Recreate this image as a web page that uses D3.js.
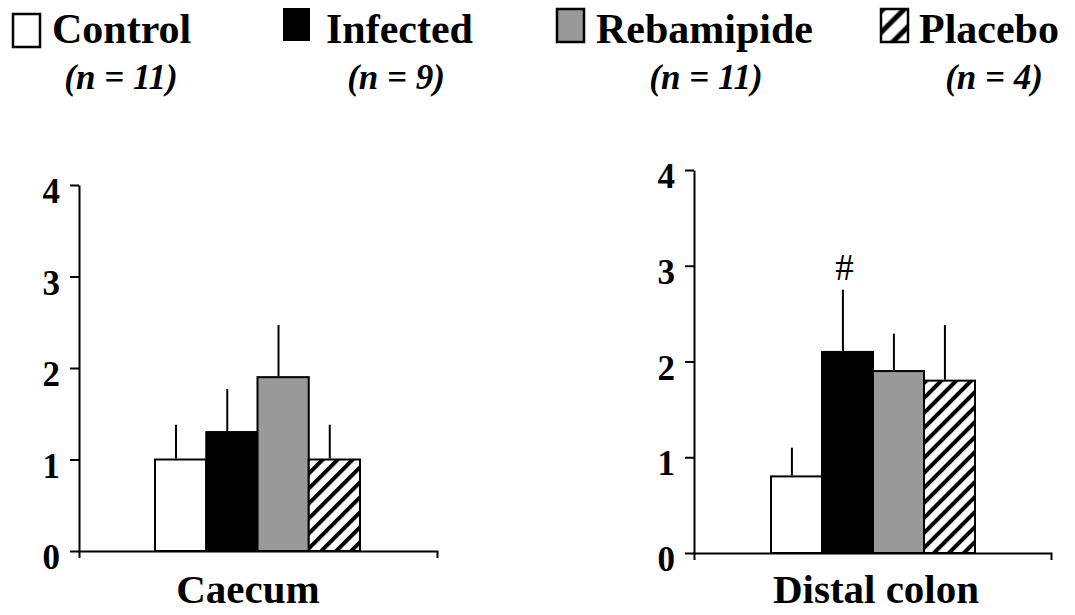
<!DOCTYPE html>
<html>
<head>
<meta charset="utf-8">
<script src="https://cdn.jsdelivr.net/npm/d3@7"></script>
<style>
  body { margin: 0; background: #fff; }
  svg { font-family: "Liberation Serif", "Times New Roman", serif; }
  .axis path, .axis line { stroke: #000; stroke-width: 2px; }
  .axis text { font-family: "Liberation Serif", "Times New Roman", serif; font-size: 35px; font-weight: bold; fill: #000; }
</style>
</head>
<body>
<div id="chart"></div>
<script>
// data
const groups = ['Control', 'Infected', 'Rebamipide', 'Placebo'];
const groupN = ['(n = 11)', '(n = 9)', '(n = 11)', '(n = 4)'];
const regions = ['Caecum', 'Distal colon'];
const caecumMean = [1.0, 1.3, 1.9, 1.0];
const caecumErr = [0.38, 0.47, 0.57, 0.38];
const colonMean = [0.8, 2.1, 1.9, 1.8];
const colonErr = [0.3, 0.65, 0.39, 0.58];
const yTicks = [0, 1, 2, 3, 4];
const marks = [null, '#', null, null]; // significance marks, distal colon

const width = 1075, height = 615;
const fills = ['#ffffff', '#000000', '#999999', 'url(#hatch)'];
const legendFills = ['#ffffff', '#000000', '#999999', 'url(#hatchBig)'];

const svg = d3.select('#chart')
    .append('svg')
    .attr('width', width)
    .attr('height', height);

const defs = svg.append('defs');
defs.append('pattern')
    .attr('id', 'hatch')
    .attr('patternUnits', 'userSpaceOnUse')
    .attr('width', 10.6)
    .attr('height', 10.6)
    .attr('patternTransform', 'rotate(45)')
    .call(p => {
        p.append('rect').attr('width', 10.6).attr('height', 10.6).attr('fill', '#fff');
        p.append('line').attr('x1', 2).attr('x2', 2).attr('y1', 0).attr('y2', 10.6)
            .attr('stroke', '#000').attr('stroke-width', 4);
    });
defs.append('pattern')
    .attr('id', 'hatchBig')
    .attr('patternUnits', 'userSpaceOnUse')
    .attr('width', 15)
    .attr('height', 15)
    .attr('patternTransform', 'translate(880,8) rotate(45)')
    .call(p => {
        p.append('rect').attr('width', 15).attr('height', 15).attr('fill', '#fff');
        p.append('line').attr('x1', 3).attr('x2', 3).attr('y1', 0).attr('y2', 15)
            .attr('stroke', '#000').attr('stroke-width', 5);
    });

// legend
const legendPos = [
    { bx: 12, by: 13, tx: 52, nx: 121 },
    { bx: 282, by: 7, tx: 326, nx: 396 },
    { bx: 556, by: 8, tx: 596, nx: 706 },
    { bx: 880, by: 8, tx: 919, nx: 994 }
];
const legend = svg.append('g').attr('class', 'legend');
groups.forEach((g, i) => {
    const p = legendPos[i];
    legend.append('rect')
        .attr('x', p.bx + 1)
        .attr('y', p.by + 1)
        .attr('width', 27)
        .attr('height', 33)
        .attr('fill', legendFills[i])
        .attr('stroke', '#000')
        .attr('stroke-width', i === 1 ? 0 : 2.5);
    legend.append('text')
        .attr('x', p.tx)
        .attr('y', 43)
        .attr('font-size', 42)
        .attr('font-weight', 'bold')
        .text(g);
    legend.append('text')
        .attr('x', p.nx)
        .attr('y', 89)
        .attr('text-anchor', 'middle')
        .attr('font-size', 35)
        .attr('font-weight', 'bold')
        .attr('font-style', 'italic')
        .text(groupN[i]);
});

// panels
const panels = [
    { name: regions[0], mean: caecumMean, err: caecumErr, marks: [],
      ax: 79, top: 185, bottom: 551, right: 437, bars: [155, 360], labelX: 248 },
    { name: regions[1], mean: colonMean, err: colonErr, marks: marks,
      ax: 694, top: 170, bottom: 553, right: 1051, bars: [771, 975], labelX: 876 }
];

panels.forEach(pn => {
    const g = svg.append('g');

    const y = d3.scaleLinear().domain([0, 4]).range([pn.bottom, pn.top]);
    const x = d3.scaleBand().domain(groups).range(pn.bars).padding(0);
    const xLine = d3.scaleLinear().range([pn.ax, pn.right]);

    // bars
    g.selectAll('.bar')
        .data(groups)
        .enter()
        .append('rect')
            .attr('class', 'bar')
            .attr('x', d => x(d))
            .attr('width', x.bandwidth())
            .attr('y', (d, i) => y(pn.mean[i]))
            .attr('height', (d, i) => y(0) - y(pn.mean[i]))
            .attr('fill', (d, i) => fills[i])
            .attr('stroke', '#000')
            .attr('stroke-width', 2);

    // error bars (upper only)
    g.selectAll('.err')
        .data(groups)
        .enter()
        .append('line')
            .attr('class', 'err')
            .attr('x1', d => x(d) + x.bandwidth() * 0.41)
            .attr('x2', d => x(d) + x.bandwidth() * 0.41)
            .attr('y1', (d, i) => y(pn.mean[i]) - 1)
            .attr('y2', (d, i) => y(pn.mean[i] + pn.err[i]))
            .attr('stroke', '#000')
            .attr('stroke-width', 2);

    // significance marks
    pn.marks.forEach((m, i) => {
        if (!m) return;
        g.append('text')
            .attr('x', x(groups[i]) + x.bandwidth() * 0.44)
            .attr('y', y(pn.mean[i] + pn.err[i]) - 10)
            .attr('text-anchor', 'middle')
            .attr('font-size', 37)
            .text(m);
    });

    // x axis: baseline with end ticks pointing down
    g.append('g')
        .attr('class', 'axis')
        .attr('transform', `translate(0, ${y(0)})`)
        .call(d3.axisBottom(xLine).tickValues([]).tickSizeOuter(7));

    // y axis
    g.append('g')
        .attr('class', 'axis')
        .attr('transform', `translate(${pn.ax}, 0)`)
        .call(d3.axisLeft(y).tickValues(yTicks).tickSize(9).tickSizeOuter(0).tickPadding(10).tickFormat(d3.format('d')))
        .selectAll('text')
            .attr('dy', '0.5em');

    g.append('text')
        .attr('x', pn.labelX)
        .attr('y', 603)
        .attr('text-anchor', 'middle')
        .attr('font-size', 41)
        .attr('font-weight', 'bold')
        .text(pn.name);
});
</script>
</body>
</html>
